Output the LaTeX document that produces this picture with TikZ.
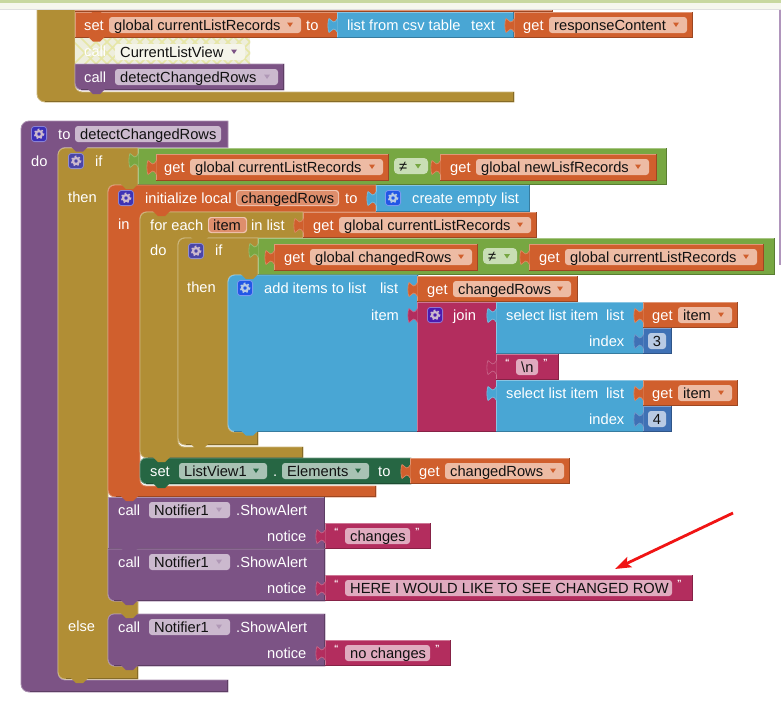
\documentclass[tikz,border=0pt]{standalone}
\usepackage{fontspec}
\setmainfont{Liberation Sans}
\usetikzlibrary{arrows.meta}
\definecolor{cOr}{HTML}{D05F2D}
\definecolor{cOrF}{HTML}{EDBBA4}
\definecolor{cOrV}{HTML}{DE8E6C}
\definecolor{cGo}{HTML}{B18E35}
\definecolor{cPu}{HTML}{7C5385}
\definecolor{cPuF}{HTML}{CBB9CE}
\definecolor{cGr}{HTML}{77A742}
\definecolor{cGrF}{HTML}{C9DEB5}
\definecolor{cBl}{HTML}{49A6D4}
\definecolor{cMa}{HTML}{B32D5E}
\definecolor{cMaF}{HTML}{E0ABBF}
\definecolor{cDg}{HTML}{266643}
\definecolor{cDgF}{HTML}{A8C2B4}
\definecolor{cNu}{HTML}{3F71B5}
\definecolor{cNuF}{HTML}{B8CAE4}
\definecolor{cDi}{HTML}{EEEEDC}
\definecolor{cDiL}{HTML}{E6E6A6}
\definecolor{cTx}{HTML}{111111}
\definecolor{cTileP}{HTML}{3A2FB8}
\definecolor{cTileG}{HTML}{4A45A8}
\definecolor{cTileB}{HTML}{2256E6}
\definecolor{cTileM}{HTML}{4A1BB0}
\definecolor{cTopG}{HTML}{C8D8A0}
\definecolor{cTopW}{HTML}{F6F7EE}
\definecolor{cEdge}{HTML}{B095BC}
\newcount\nodeno
\newcommand{\nxt}{\global\advance\nodeno by 1 }
% plain block: colour, x1,y1,x2,y2
\newcommand{\bk}[5]{%
  \fill[#1] (#2,#3) rectangle (#4,#5);
  \draw[#1!65!white,line width=.8] (#2+.4,#5) -- (#2+.4,#3+.4) -- (#4,#3+.4);
  \draw[#1!75!black,line width=.8] (#2,#5-.4) -- (#4-.4,#5-.4) -- (#4-.4,#3);}
% block with rounded left corners: colour, x1,y1,x2,y2, top radius, bottom radius
\newcommand{\bkl}[7]{%
  \filldraw[fill=#1,draw=#1!65!white,line width=.8]
    (#4,#3) [rounded corners=#6] -- (#2,#3) [rounded corners=#7] -- (#2,#5) [sharp corners] -- (#4,#5) -- cycle;
  \draw[#1!75!black,line width=.8] (#2+6,#5-.4) -- (#4-.4,#5-.4) -- (#4-.4,#3);}
% white label
\newcommand{\lb}[3]{\nxt\node[lab] (n\the\nodeno) at (#1,#2) {#3};}
% field: x1,y1,x2,tint,text,arrow colour
\newcommand{\fd}[6]{%
  \fill[#4,rounded corners=3] (#1,#2) rectangle (#3,#2+16);
  \nxt\node[fldt] (n\the\nodeno) at (#1+5,#2+13) {#5};
  \fill[#6] (#3-14,#2+5.5) -- (#3-8,#2+5.5) -- (#3-11,#2+10) -- cycle;}
% field without arrow
\newcommand{\fn}[5]{%
  \fill[#4,rounded corners=3] (#1,#2) rectangle (#3,#2+16);
  \nxt\node[fldt] (n\the\nodeno) at (#1+5,#2+13) {#5};}
% puzzle tab on left: colour, x, row top
\newcommand{\tb}[3]{%
  \filldraw[fill=#1,draw=#1!72!white,line width=.6]
    (#2+.5,#3+6.5) .. controls (#2-1,#3+9) and (#2-2,#3+10) .. (#2-3.5,#3+10)
    .. controls (#2-5,#3+10) and (#2-6.5,#3+6.5) .. (#2-8,#3+6.5)
    .. controls (#2-9.5,#3+8) and (#2-9.5,#3+19) .. (#2-8,#3+20.5)
    .. controls (#2-6.5,#3+20.5) and (#2-5,#3+17) .. (#2-3.5,#3+17)
    .. controls (#2-2,#3+17) and (#2-1,#3+18) .. (#2+.5,#3+20.5);}
% statement notch: colour, x of block, y
\newcommand{\nt}[3]{\fill[#1] (#2+13,#3-.8) -- (#2+18,#3+4) -- (#2+25,#3+4) -- (#2+30,#3-.8) -- cycle;}
% gear: x,y centre, tile colour, gear colour
\newcommand{\gear}[4]{%
  \filldraw[fill=#3,draw=#3!60!white,line width=.8,rounded corners=3] (#1-7.6,#2-7.6) rectangle (#1+7.6,#2+7.6);
  \draw[#4,line width=2.2] (#1,#2) circle (3);
  \draw[#4,line width=1.6,dash pattern=on 1.7 off 2.25] (#1,#2) circle (4.6);}
% get block: x1,y1,x2,y2,fx1,fx2,text
\newcommand{\getb}[7]{%
  \bk{cOr}{#1}{#2}{#3}{#4}
  \tb{cOr}{#1}{#2}
  \lb{#5-26}{#2+18}{get}
  \fd{#5}{#2+5}{#6}{cOrF}{#7}{cOr}}
% text block: x1,y1,x2,fx2,text
\newcommand{\strb}[5]{%
  \bk{cMa}{#1}{#2}{#3}{#2+26}
  \tb{cMa}{#1}{#2}
  \nxt\node[quo] (n\the\nodeno) at (#1+9,#2+11) {“};
  \fn{#1+20}{#2+5}{#4}{cMaF}{#5}
  \nxt\node[quo] (n\the\nodeno) at (#4+5,#2+11) {”};}
% call notifier: y1, y2
\newcommand{\callrow}[1]{%
  \lb{118}{#1+18}{call}
  \fd{149}{#1+5}{230}{cPuF}{Notifier1}{cPu!60!white}
  \lb{236}{#1+18}{.ShowAlert}
  \lb{267}{#1+44}{notice}}
% select list item: y1, get block
\newcommand{\selrow}[2]{%
  \bk{cBl}{496}{#1}{644}{#1+52}
  \tb{cBl}{496}{#1}
  \lb{506}{#1+18}{select list item}
  \lb{606}{#1+18}{list}
  \lb{589}{#1+44}{index}
  \getb{643}{#1}{738}{#1+26}{678}{732}{item}
  \bk{cNu}{643}{#1+26}{672}{#1+52}
  \tb{cNu}{643}{#1+26}
  \fill[cNuF,rounded corners=3] (648,#1+31) rectangle (666,#1+47);
  \nxt\node[fldt,anchor=base] (n\the\nodeno) at (657,#1+44) {#2};}
\tikzset{
  lab/.style={anchor=base west,inner sep=0pt,text=white,font=\fontsize{14.67}{16}\selectfont},
  fldt/.style={anchor=base west,inner sep=0pt,text=cTx,font=\fontsize{14.67}{16}\selectfont},
  quo/.style={anchor=base west,inner sep=0pt,text=white,font=\bfseries\fontsize{9}{9}\selectfont},
  goldb/.style={fill=cGo,draw=cGo!65!white,line width=.8},
  purpb/.style={fill=cPu,draw=cPu!65!white,line width=.8},
  orngb/.style={fill=cOr,draw=cOr!65!white,line width=.8},
  redarrow/.style={draw={rgb,255:red,240;green,20;blue,20},line width=2.8,-{Stealth[length=16,width=11,inset=3]}}
}
\begin{document}
\begin{tikzpicture}[x=1pt,y=-1pt]
\useasboundingbox (0,0) rectangle (781,715);
\fill[white] (0,0) rectangle (781,715);
% ---------- first group ----------
\filldraw[goldb] (37,9) [rounded corners=8] -- (37,102) [sharp corners] -- (514,102) -- (514,92) [rounded corners=7] -- (75,92) -- (75,9);
\draw[cGo!75!black,line width=.8] (45,101.6) -- (513.6,101.6) -- (513.6,92);
\bk{cOr}{75}{9}{553}{12}
\bk{cOr}{75}{12}{338}{37.5}
\lb{84}{30}{set}
\fd{109}{17}{301}{cOrF}{global currentListRecords}{cOr}
\lb{306}{30}{to}
\bk{cBl}{337}{12}{514}{37.5}
\tb{cBl}{337}{12}
\lb{347}{30}{list from csv table}
\lb{471}{30}{text}
\getb{514}{12}{693}{38}{549}{687}{responseContent}
% disabled call
\fill[cDi] (75,38) rectangle (250,63);
\begin{scope}
\clip (75,38) rectangle (250,63);
\foreach \k in {0,...,22}{
  \draw[cDiL,line width=1.5] (65+\k*11,33) -- (105+\k*11,73);
  \draw[cDiL,line width=1.5] (65+\k*11,73) -- (105+\k*11,33);
}
\end{scope}
\lb{84}{56}{call}
\fd{115}{44}{245}{cDi!60!white}{CurrentListView}{cPu}
\bkl{cPu}{75}{64}{284}{90}{0.01}{7}
\lb{84}{82}{call}
\fd{115}{69}{278}{cPuF}{detectChangedRows}{cPu!60!white}
\nt{cOr}{75}{37.5}
\nt{cOr}{75}{9.5}
\nt{cPu}{75}{90}
% ---------- procedure ----------
\filldraw[purpb] (228,121) [rounded corners=8] -- (21,121) -- (21,692) [sharp corners] -- (228,692) -- (228,680) [rounded corners=7] -- (58,680) -- (58,147.5) [sharp corners] -- (228,147.5) -- cycle;
\draw[cPu!75!black,line width=.8] (30,691.6) -- (227.6,691.6) -- (227.6,680);
\gear{39}{134}{cTileP}{cPuF}
\lb{58}{139}{to}
\fn{75}{126}{221}{cPuF}{detectChangedRows}
\lb{31}{166}{do}
% ---------- outer if ----------
\filldraw[goldb] (138,148) [rounded corners=7] -- (58,148) -- (58,679) [sharp corners] -- (138,679) -- (138,666) [rounded corners=6] -- (108,666) -- (108,614) [sharp corners] -- (138,614) -- (138,601) [rounded corners=6] -- (108,601) -- (108,185) [sharp corners] -- (138,185) -- cycle;
\draw[cGo!75!black,line width=.8] (66,678.6) -- (137.6,678.6) -- (137.6,666);
\gear{76}{161}{cTileG}{cPuF}
\lb{95}{166}{if}
\lb{68}{202}{then}
\lb{68}{631}{else}
\bk{cGr}{138}{148}{667}{185}
\tb{cGr}{138}{147}
\getb{156}{154}{389}{181}{190}{383}{global currentListRecords}
\fill[cGrF,rounded corners=4] (394,158) rectangle (428,174);
\nxt\node[fldt] (n\the\nodeno) at (399,171) {≠};
\fill[cGr] (415,164) -- (421,164) -- (418,168.5) -- cycle;
\getb{440}{154}{657}{181}{476}{649}{global newLisfRecords}
% ---------- initialize local ----------
\filldraw[orngb] (376,185) [rounded corners=7] -- (108,185) -- (108,497) [sharp corners] -- (376,497) -- (376,486) [rounded corners=6] -- (140,486) -- (140,212) [sharp corners] -- (376,212) -- cycle;
\draw[cOr!75!black,line width=.8] (116,496.6) -- (375.6,496.6) -- (375.6,486);
\gear{126}{198}{cTileP!80!cTileG}{cPuF}
\lb{145}{203}{initialize local}
\fill[cOrF!85!white,rounded corners=3] (236,190) rectangle (339,206);
\fill[cOrV,rounded corners=3] (237,191) rectangle (338,205);
\nxt\node[fldt] (n\the\nodeno) at (241,203) {changedRows};
\lb{345}{203}{to}
\lb{118}{229}{in}
\bk{cBl}{376}{185}{530}{212}
\tb{cBl}{376}{185}
\gear{393}{198}{cTileB}{cNuF}
\lb{412}{203}{create empty list}
% ---------- for each ----------
\filldraw[goldb] (303,212) [rounded corners=7] -- (140,212) -- (140,458) [sharp corners] -- (303,458) -- (303,447) [rounded corners=6] -- (178,447) -- (178,238) [sharp corners] -- (303,238) -- cycle;
\draw[cGo!75!black,line width=.8] (148,457.6) -- (302.6,457.6) -- (302.6,447);
\lb{150}{230}{for each}
\fill[cOrF!85!white,rounded corners=3] (208,217) rectangle (247,233);
\fill[cOrV,rounded corners=3] (209,218) rectangle (246,232);
\nxt\node[fldt] (n\the\nodeno) at (213,230) {item};
\lb{251}{230}{in list}
\getb{303}{212}{537}{238}{339}{531}{global currentListRecords}
\lb{150}{255}{do}
% ---------- inner if ----------
\filldraw[goldb] (258,238) [rounded corners=7] -- (178,238) -- (178,445) [sharp corners] -- (258,445) -- (258,432) [rounded corners=6] -- (228,432) -- (228,275) [sharp corners] -- (258,275) -- cycle;
\draw[cGo!75!black,line width=.8] (186,444.6) -- (257.6,444.6) -- (257.6,432);
\gear{196}{251}{cTileG}{cPuF}
\lb{215}{255}{if}
\lb{187}{292}{then}
\bk{cGr}{258}{238}{775}{275}
\tb{cGr}{258}{237}
\getb{274}{244}{478}{271}{310}{472}{global changedRows}
\fill[cGrF,rounded corners=4] (483,248) rectangle (517,264);
\nxt\node[fldt] (n\the\nodeno) at (488,261) {≠};
\fill[cGr] (504,254) -- (510,254) -- (507,258.5) -- cycle;
\getb{529}{244}{764}{271}{565}{757}{global currentListRecords}
% ---------- add items ----------
\bkl{cBl}{228}{275}{418}{431.5}{7}{7}
\gear{245}{288}{cTileB}{cNuF}
\lb{264}{293}{add items to list}
\lb{380}{293}{list}
\lb{371}{320}{item}
\getb{417}{276}{578}{301.5}{453}{571}{changedRows}
% join
\bk{cMa}{417}{302}{497}{431.5}
\tb{cMa}{417}{302}
\gear{435}{315}{cTileM}{cPuF}
\lb{453}{320}{join}
\selrow{302}{3}
\strb{496}{354}{559}{538}{\textbackslash n}
\selrow{380}{4}
% ---------- set ListView ----------
\bkl{cDg}{140}{458}{411}{484}{6}{7}
\lb{150}{476}{set}
\fd{179}{463}{267}{cDgF}{ListView1}{cDg}
\lb{273}{476}{.}
\fd{282}{463}{369}{cDgF}{Elements}{cDg}
\lb{378}{476}{to}
\getb{410}{458}{570}{484}{445}{564}{changedRows}
% ---------- calls ----------
\bk{cPu}{108}{497}{325}{549}
\callrow{497}
\strb{325}{523}{431}{410}{changes}
\bkl{cPu}{108}{549}{325}{601}{0.01}{7}
\callrow{549}
\strb{325}{575}{693}{672}{HERE I WOULD LIKE TO SEE CHANGED ROW}
\bkl{cPu}{108}{614}{325}{666}{6}{7}
\callrow{614}
\strb{325}{640}{451}{430}{no changes}
% ---------- notches ----------
\nt{cPu}{58}{147.5}
\nt{cGo}{108}{185}
\nt{cOr}{140}{212}
\nt{cGo}{178}{238}
\nt{cGo}{228}{275}
\nt{cBl}{228}{431.5}
\nt{cGo}{178}{445}
\nt{cGo}{140}{458}
\nt{cDg}{140}{484}
\nt{cOr}{108}{497}
\nt{cPu}{108}{549}
\nt{cPu}{108}{601}
\nt{cGo}{108}{614}
\nt{cPu}{108}{666}
\nt{cGo}{58}{679}
% ---------- window chrome ----------
\fill[cTopW] (0,0) rectangle (781,9);
\fill[cTopG] (0,0) rectangle (781,3);
\fill[black!12] (0,8.5) rectangle (781,9.5);
\bk{cOr}{75}{9.5}{553}{12}
\fill[cEdge] (779,9.5) rectangle (781,265);
% ---------- annotation arrow ----------
\coordinate (arrowstart) at (733,513);
\coordinate (arrowend) at (615,569);
\draw[redarrow] (arrowstart) -- (arrowend);
\end{tikzpicture}
\end{document}
